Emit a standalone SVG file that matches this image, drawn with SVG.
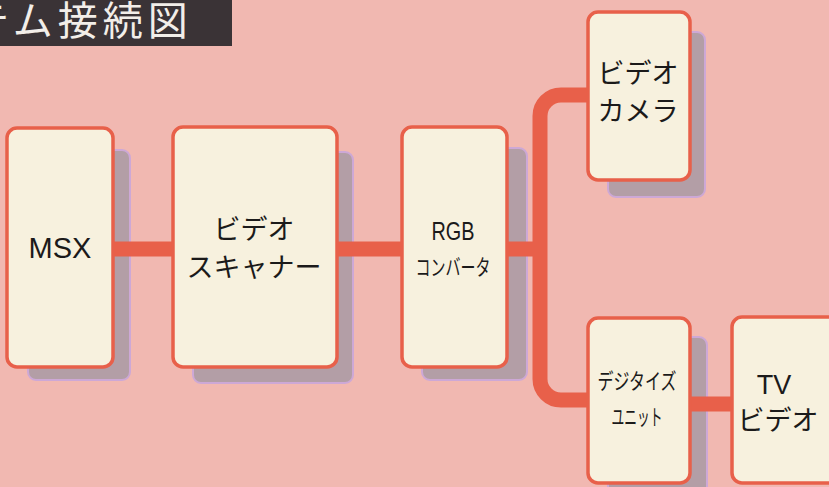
<svg xmlns="http://www.w3.org/2000/svg" width="829" height="487" viewBox="0 0 829 487">
<style>
.bg{fill:#f1b8b1}
.shadow{fill:#b39ea6;stroke:#cda8d6;stroke-width:2}
.box{fill:#f7f1de;stroke:#e8604a;stroke-width:3.5}
.wire{fill:none;stroke:#e8604a;stroke-width:15}
.lbl{font-family:"Noto Sans CJK JP","Noto Sans",sans-serif;fill:#1b1a1a;text-anchor:middle}
.lat{font-family:"Liberation Sans",Arial,sans-serif;fill:#1b1a1a;text-anchor:middle}
.big{font-size:27px}
.cond{font-size:22px}
.title{font-family:"Noto Sans CJK JP",sans-serif;font-size:40px;fill:#f2eee9;letter-spacing:5px}
</style>
<rect class="bg" x="0" y="0" width="829" height="487"/>
<g id="title">
<rect x="0" y="0" width="232" height="46" fill="#3a3336"/>
<text class="title" x="-31" y="35">テム接続図</text>
</g>
<g id="shadows">
<rect class="shadow" x="28" y="150" width="102" height="230" rx="8"/>
<rect class="shadow" x="193" y="152" width="160" height="231" rx="8"/>
<rect class="shadow" x="422" y="148" width="105" height="232" rx="8"/>
<rect class="shadow" x="608" y="32" width="97" height="165" rx="8"/>
<rect class="shadow" x="608" y="337" width="99" height="160" rx="8"/>
</g>
<g id="connectors">
<line class="wire" x1="110" y1="249" x2="176" y2="249"/>
<line class="wire" x1="334" y1="249" x2="405" y2="249"/>
<line class="wire" x1="504" y1="249" x2="540" y2="249"/>
<path class="wire" d="M 591 95 H 561 A 21 21 0 0 0 540 116 V 379 A 21 21 0 0 0 561 400 H 591"/>
<line class="wire" x1="687" y1="404" x2="735" y2="404"/>
</g>
<g id="msx">
<rect class="box" x="7" y="128" width="106" height="239" rx="10"/>
<text class="lat" x="60" y="258" font-size="29">MSX</text>
</g>
<g id="scanner">
<rect class="box" x="173" y="127" width="164" height="240" rx="10"/>
<text class="lbl big" x="254" y="239">ビデオ</text>
<text class="lbl big" x="254" y="277">スキャナー</text>
</g>
<g id="rgb">
<rect class="box" x="402" y="127" width="105" height="240" rx="10"/>
<text class="lat" x="453" y="240" font-size="25" textLength="43" lengthAdjust="spacingAndGlyphs">RGB</text>
<text class="lbl cond" x="453" y="275" textLength="75" lengthAdjust="spacingAndGlyphs">コンバータ</text>
</g>
<g id="camera">
<rect class="box" x="588" y="12" width="102" height="168" rx="10"/>
<text class="lbl big" x="638" y="83">ビデオ</text>
<text class="lbl big" x="638" y="121">カメラ</text>
</g>
<g id="digitize">
<rect class="box" x="588" y="318" width="102" height="165" rx="10"/>
<text class="lbl cond" x="637" y="389" textLength="79" lengthAdjust="spacingAndGlyphs">デジタイズ</text>
<text class="lbl cond" x="637" y="425" textLength="51" lengthAdjust="spacingAndGlyphs">ユニット</text>
</g>
<g id="tv">
<rect class="box" x="732" y="317" width="110" height="166" rx="10"/>
<text class="lat" x="774" y="394" font-size="27">TV</text>
<text class="lbl big" x="778" y="430">ビデオ</text>
</g>
</svg>
